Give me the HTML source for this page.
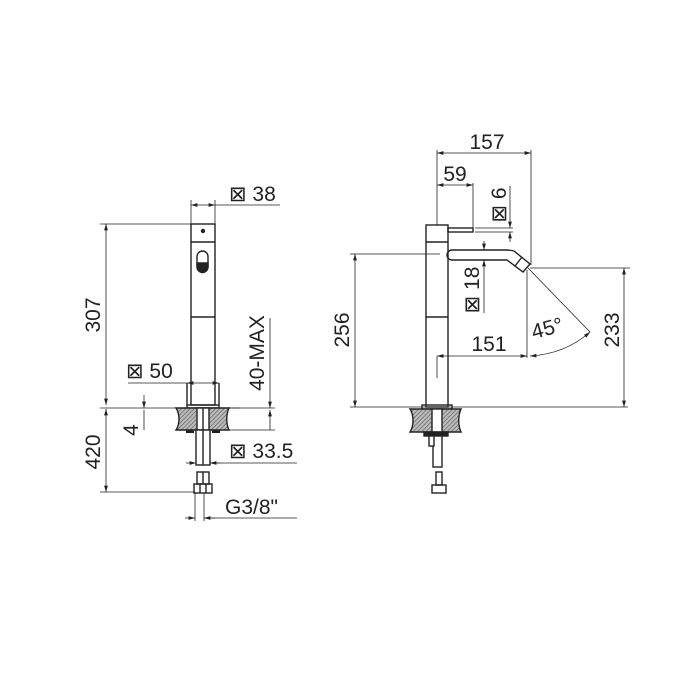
<!DOCTYPE html>
<html><head><style>html,body{margin:0;padding:0;background:#fff}svg{display:block}text{font-family:"Liberation Sans",sans-serif;font-size:21px;fill:#222}</style></head><body>
<svg width="700" height="700" viewBox="0 0 700 700" xmlns="http://www.w3.org/2000/svg">
<defs>
<pattern id="h" width="3" height="3" patternUnits="userSpaceOnUse" patternTransform="rotate(45)"><rect width="3" height="3" fill="#bbb"/><line x1="0" y1="0" x2="0" y2="3" stroke="#555" stroke-width="1.2"/></pattern>
<marker id="a" viewBox="0 0 10 6" refX="10" refY="3" markerWidth="8" markerHeight="5" orient="auto-start-reverse"><path d="M0,0L10,3L0,6z" fill="#222"/></marker>
</defs>
<g stroke="#222" fill="none" stroke-width="1.4">
<rect x="191" y="224" width="24" height="181"/>
<line x1="191" y1="242" x2="215" y2="242"/>
<line x1="191" y1="317" x2="215" y2="317"/>
<rect x="197" y="251" width="11" height="21" rx="5.5"/>
<path d="M197,263 H208 V267 A5.5,5.5 0 0 1 197,267 Z" fill="#222"/>
<circle cx="203" cy="231" r="1.5" fill="#222"/>
<line x1="187" y1="383" x2="187" y2="405"/><line x1="219" y1="383" x2="219" y2="405"/>
<rect x="187" y="405" width="32" height="3"/>
<path d="M176,408 H229 C226,414 226,424 229,430 H176 C180,424 180,414 176,408 Z" fill="url(#h)"/>
<rect x="197" y="408" width="12" height="22" fill="#fff"/>
<rect x="196" y="430" width="14" height="35" fill="#fff"/>
<line x1="203" y1="408" x2="203" y2="465"/>
<rect x="186" y="430" width="8" height="3" fill="#222" stroke="none"/><rect x="212" y="430" width="8" height="3" fill="#222" stroke="none"/>
<rect x="197" y="472" width="12" height="12"/><line x1="203" y1="472" x2="203" y2="484"/>
<rect x="194" y="484" width="18" height="9"/><line x1="200" y1="484" x2="200" y2="493"/><line x1="206" y1="484" x2="206" y2="493"/>
</g>
<g stroke="#222" fill="none" stroke-width="0.8">
<line x1="191" y1="200" x2="191" y2="224"/><line x1="215" y1="200" x2="215" y2="224"/>
<line x1="191" y1="205" x2="215" y2="205" marker-start="url(#a)" marker-end="url(#a)"/><line x1="215" y1="205" x2="280" y2="205"/>
<line x1="100" y1="224" x2="191" y2="224"/>
<line x1="106" y1="224" x2="106" y2="405" marker-start="url(#a)" marker-end="url(#a)"/>
<line x1="100" y1="408" x2="240" y2="408"/>
<line x1="106" y1="409" x2="106" y2="492" marker-start="url(#a)" marker-end="url(#a)"/>
<line x1="100" y1="492" x2="195" y2="492"/>
<line x1="144" y1="395" x2="144" y2="408" marker-end="url(#a)"/><line x1="144" y1="430" x2="144" y2="410"/>
<line x1="128" y1="383" x2="187" y2="383"/><line x1="187" y1="383" x2="219" y2="383" marker-start="url(#a)" marker-end="url(#a)"/>
<line x1="270" y1="318" x2="270" y2="408" marker-end="url(#a)"/><line x1="270" y1="430" x2="270" y2="410" marker-end="url(#a)"/>
<line x1="229" y1="430" x2="275" y2="430"/><line x1="229" y1="408" x2="275" y2="408"/>
<line x1="186" y1="463" x2="196" y2="463" marker-end="url(#a)"/><line x1="220" y1="463" x2="210" y2="463" marker-end="url(#a)"/><line x1="210" y1="463" x2="297" y2="463"/>
<line x1="195" y1="493" x2="195" y2="521"/><line x1="204" y1="493" x2="204" y2="521"/>
<line x1="185" y1="518" x2="195" y2="518" marker-end="url(#a)"/><line x1="215" y1="518" x2="204" y2="518" marker-end="url(#a)"/><line x1="204" y1="518" x2="297" y2="518"/>
</g>
<text x="229" y="201">⊠ 38</text>
<text transform="translate(100,315) rotate(-90)" text-anchor="middle">307</text>
<text transform="translate(100,452) rotate(-90)" text-anchor="middle">420</text>
<text transform="translate(138,430) rotate(-90)" text-anchor="middle">4</text>
<text x="126" y="378">⊠ 50</text>
<text transform="translate(264,353) rotate(-90)" text-anchor="middle">40-MAX</text>
<text x="229" y="458">⊠ 33.5</text>
<text x="225" y="514">G3/8"</text>
<g stroke="#222" fill="none" stroke-width="1.4">
<rect x="426" y="225" width="22" height="182"/>
<line x1="426" y1="242" x2="448" y2="242"/>
<line x1="426" y1="317" x2="448" y2="317"/>
<rect x="448" y="228" width="25" height="4"/>
<path d="M507,250 H452 A5,5 0 0 0 452,260 H507 L523,272 L530,264 L514,251 Q510,250 507,250"/>
<line x1="515" y1="266" x2="522" y2="257"/>
<rect x="422" y="405" width="30" height="4"/>
<path d="M410,409 H461 C458,415 458,426 461,432 H410 C414,426 414,415 410,409 Z" fill="url(#h)"/>
<rect x="432" y="409" width="10" height="23" fill="#fff"/>
<rect x="424" y="432" width="24" height="4" fill="#222"/>
<rect x="433" y="436" width="9" height="31" fill="#fff"/>
<rect x="429" y="436" width="5" height="10" fill="#fff"/>
<rect x="436" y="472" width="6" height="13"/>
<rect x="432" y="485" width="14" height="8"/>
</g>
<g stroke="#222" fill="none" stroke-width="0.8">
<line x1="437" y1="150" x2="437" y2="225"/><line x1="531" y1="150" x2="531" y2="265"/>
<line x1="437" y1="153" x2="531" y2="153" marker-start="url(#a)" marker-end="url(#a)"/>
<line x1="473" y1="183" x2="473" y2="228"/>
<line x1="437" y1="185" x2="473" y2="185" marker-start="url(#a)" marker-end="url(#a)"/>
<line x1="475" y1="228" x2="513" y2="228"/><line x1="475" y1="232" x2="513" y2="232"/>
<line x1="510" y1="186" x2="510" y2="228" marker-end="url(#a)"/><line x1="510" y1="242" x2="510" y2="232" marker-end="url(#a)"/>
<line x1="484" y1="241" x2="484" y2="250" marker-end="url(#a)"/><line x1="484" y1="313" x2="484" y2="260" marker-end="url(#a)"/>
<line x1="350" y1="254" x2="440" y2="254"/>
<line x1="355" y1="254" x2="355" y2="407" marker-start="url(#a)" marker-end="url(#a)"/>
<line x1="350" y1="407" x2="628" y2="407"/>
<line x1="530" y1="268" x2="630" y2="268"/>
<line x1="624" y1="268" x2="624" y2="407" marker-start="url(#a)" marker-end="url(#a)"/>
<line x1="527" y1="270" x2="527" y2="358"/>
<line x1="437" y1="356" x2="437" y2="378"/>
<line x1="437" y1="356" x2="527" y2="356" marker-start="url(#a)" marker-end="url(#a)"/>
<line x1="528" y1="268" x2="590" y2="332"/>
<path d="M530,356 Q565,354 590,332" marker-start="url(#a)" marker-end="url(#a)"/>
</g>
<text x="487" y="149" text-anchor="middle">157</text>
<text x="455" y="181" text-anchor="middle">59</text>
<text transform="translate(506,205) rotate(-90)" text-anchor="middle">⊠ 6</text>
<text transform="translate(479,290) rotate(-90)" text-anchor="middle">⊠ 18</text>
<text transform="translate(349,330) rotate(-90)" text-anchor="middle">256</text>
<text transform="translate(619,330) rotate(-90)" text-anchor="middle">233</text>
<text x="489" y="351" text-anchor="middle">151</text>
<text transform="translate(549,335) rotate(-15)" text-anchor="middle">45°</text>
</svg>
</body></html>
